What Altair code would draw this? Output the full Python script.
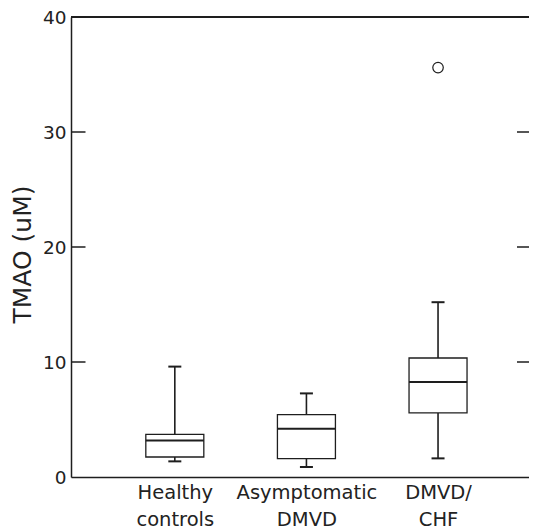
import altair as alt
import pandas as pd

categories = ["Healthy controls", "Asymptomatic DMVD", "DMVD/CHF"]
label_lines = [["Healthy", "controls"], ["Asymptomatic", "DMVD"], ["DMVD/", "CHF"]]
whisker_low = [1.36, 0.87, 1.62]
q1 = [1.74, 1.59, 5.57]
median = [3.18, 4.2, 8.26]
q3 = [3.7, 5.42, 10.35]
whisker_high = [9.6, 7.27, 15.2]
outlier_group = ["DMVD/CHF"]
outlier_value = [35.6]
y_ticks = [0, 10, 20, 30, 40]
inner_ticks = [10, 20, 30, 40]

W, H = 458, 460
INK = "#1e1e1e"
FONT = "DejaVu Sans"

boxes = pd.DataFrame({"group": categories, "lo": whisker_low, "q1": q1,
                      "med": median, "q3": q3, "hi": whisker_high})
outliers = pd.DataFrame({"group": outlier_group, "v": outlier_value})
ticks_df = pd.DataFrame({"v": inner_ticks})

expr = "''"
for cat, lines in reversed(list(zip(categories, label_lines))):
    arr = "[" + ",".join("'" + s + "'" for s in lines) + "]"
    expr = f"datum.label == '{cat}' ? {arr} : ({expr})"

x_axis = alt.Axis(title=None, domain=True, domainColor=INK, domainWidth=1.5,
                  ticks=False, grid=False, labelAngle=0, labelFont=FONT,
                  labelFontSize=19.5, labelColor="#222", labelPadding=6,
                  labelBaseline="top", labelLineHeight=27, labelExpr=expr)
y_axis = alt.Axis(values=y_ticks, domain=True, domainColor=INK, domainWidth=1.5,
                  ticks=False, grid=False, labelFont=FONT, labelFontSize=18.5,
                  labelColor="#222", labelPadding=5, title="TMAO (uM)",
                  titleFont=FONT, titleFontSize=25, titleFontWeight="normal",
                  titleColor="#222", titleX=-49, titleY=237, titleAlign="center",
                  titleBaseline="middle", titleAngle=270)

x_enc = alt.X("group:N", scale=alt.Scale(type="point", domain=categories,
                                         padding=0.74, align=0.533),
              axis=x_axis)
yscale = alt.Scale(domain=[0, 40], nice=False, zero=True)


def Y(field):
    return alt.Y(f"{field}:Q", scale=yscale, axis=y_axis, title="TMAO (uM)")


base = alt.Chart(boxes)
lower_whisk = base.mark_rule(color=INK, strokeWidth=1.6).encode(x=x_enc, y=Y("lo"), y2="q1")
upper_whisk = base.mark_rule(color=INK, strokeWidth=1.6).encode(x=x_enc, y=Y("q3"), y2="hi")
box = base.mark_bar(fill="white", stroke=INK, strokeWidth=1.3, size=58).encode(
    x=x_enc, y=Y("q1"), y2="q3")
med = base.mark_tick(color=INK, thickness=2, size=58, opacity=1).encode(x=x_enc, y=Y("med"))
cap_lo = base.mark_tick(color=INK, thickness=2, size=13, opacity=1).encode(x=x_enc, y=Y("lo"))
cap_hi = base.mark_tick(color=INK, thickness=2, size=13, opacity=1).encode(x=x_enc, y=Y("hi"))
outl = alt.Chart(outliers).mark_point(shape="circle", filled=False, stroke=INK,
                                      strokeWidth=1.2, size=110, opacity=1).encode(
    x=x_enc, y=Y("v"))

left_ticks = alt.Chart(ticks_df).mark_rule(color=INK, strokeWidth=1.5).encode(
    y=Y("v"), x=alt.value(0), x2=alt.value(14.5))
right_ticks = alt.Chart(ticks_df).mark_rule(color=INK, strokeWidth=1.5).encode(
    y=Y("v"), x=alt.value(W - 12), x2=alt.value(W))
top_line = alt.Chart(ticks_df).mark_rule(color=INK, strokeWidth=1.5).encode(
    y=alt.value(0), x=alt.value(0), x2=alt.value(W))

chart = alt.layer(lower_whisk, upper_whisk, box, med, cap_lo, cap_hi, outl,
                  left_ticks, right_ticks, top_line).properties(
    width=W, height=H,
    autosize=alt.AutoSizeParams(type="none"),
    padding={"left": 63, "top": 9, "right": 0, "bottom": 51},
).configure_view(stroke=None).configure(background="white")

chart.save("out.html", embed_options={"renderer": "svg", "actions": False})
